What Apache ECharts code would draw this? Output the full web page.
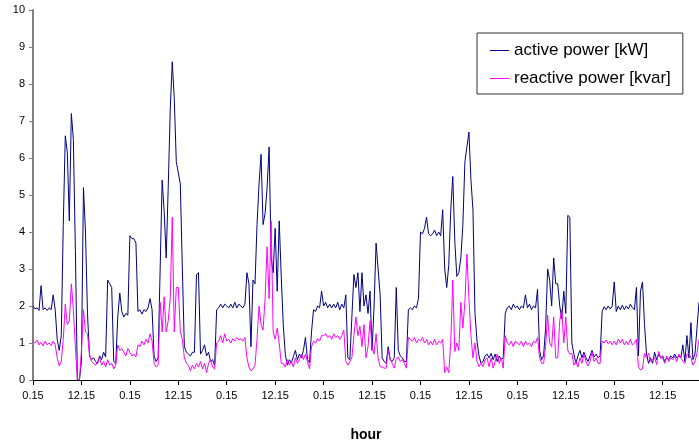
<!DOCTYPE html>
<html>
<head>
<meta charset="utf-8">
<script src="https://cdn.jsdelivr.net/npm/echarts@6/dist/echarts.min.js"></script>
<style>
  html, body { margin: 0; padding: 0; background: #fff; }
  #Chart { width: 699px; height: 441px; }
</style>
</head>
<body>
<div id="Chart"></div>
<script>
// readings every 30 min, starting at 0:15, one row per half day
var activePower = [].concat(
    [2.0,1.92,1.95,1.88,2.55,1.9,1.95,1.88,1.95,1.9,2.3,1.9,1.1,0.8,1.2,4.2,6.6,6.15,4.3,7.2,6.5,3.5,0,0],
    [0.5,5.2,4.0,1.8,0.65,0.55,0.6,0.5,0.45,0.65,0.55,0.75,0.62,2.7,2.6,2.5,0.5,0.45,1.7,2.35,1.85,1.7,1.8,1.75],
    [3.9,3.82,3.82,3.7,1.85,1.9,1.78,1.9,1.85,1.95,2.2,1.9,0.65,0.5,0.6,3.0,5.4,4.55,3.3,5.2,7.3,8.6,7.6,5.9],
    [5.6,5.3,3.0,0.9,0.75,0.7,0.65,0.75,0.75,2.85,2.9,0.7,0.8,0.95,0.65,0.75,0.5,0.55,0.4,1.9,1.95,2.05,1.95,2.05],
    [2.0,1.95,2.05,1.95,2.1,1.95,2.05,2.0,1.95,2.05,2.9,2.6,0.9,2.7,2.6,4.2,5.3,6.1,4.2,4.5,5.2,6.3,3.3,2.9],
    [4.1,2.4,4.3,2.8,1.5,0.7,0.4,0.55,0.47,0.63,0.8,0.55,0.7,0.6,0.8,1.15,0.55,0.47,1.3,1.9,1.85,2.0,1.95,2.4],
    [2.0,2.1,1.95,2.05,1.95,2.05,1.95,2.1,1.9,2.05,1.95,2.3,0.6,0.55,1.7,2.85,2.5,2.9,1.85,2.9,2.0,2.3,1.8,2.4],
    [0.8,2.0,3.7,3.0,2.3,0.6,0.5,0.45,0.9,0.55,0.5,0.6,2.5,0.8,0.65,0.6,0.5,0.5,1.9,1.95,1.9,2.0,1.95,2.2],
    [4.0,3.95,4.1,4.4,3.95,3.9,3.95,4.05,3.9,4.0,3.9,4.6,3.0,2.5,3.1,4.6,5.5,3.75,2.8,2.9,3.3,4.2,5.9,6.3],
    [6.7,5.4,4.6,1.8,1.05,0.65,0.45,0.5,0.65,0.7,0.6,0.72,0.55,0.7,0.5,0.65,0.55,0.6,1.8,1.95,2.0,1.9,2.05,1.95],
    [2.0,1.9,2.0,1.95,2.3,1.95,2.05,1.9,2.0,1.95,2.45,0.8,0.55,0.65,1.4,3.0,2.7,2.0,3.3,2.6,2.6,2.0,1.65,2.4],
    [1.8,4.45,4.4,1.0,0.7,0.45,0.65,0.8,0.6,0.75,0.6,0.5,0.65,0.8,0.62,0.7,0.6,0.65,1.85,1.98,1.9,2.0,1.92,2.0],
    [2.65,1.85,2.0,1.9,2.02,1.9,2.0,1.92,2.05,1.95,1.9,2.5,0.65,2.4,2.65,1.5,0.7,0.45,0.6,0.45,0.75,0.55,0.7,0.6],
    [0.65,0.5,0.6,0.55,0.65,0.6,0.7,0.6,0.65,0.6,0.95,0.5,1.2,0.6,1.55,0.55,0.7,1.4,2.1]
);

var reactivePower = [].concat(
    [1.05,1.0,1.08,0.95,1.02,0.92,1.05,0.95,1.0,0.93,1.05,0.95,0.6,0.38,0.5,1.1,2.05,1.5,1.6,2.6,1.9,0.9,0,0],
    [0.8,1.9,1.3,1.25,0.7,0.5,0.45,0.4,0.5,0.6,0.4,0.5,0.35,0.55,0.4,0.45,0.3,0.4,0.95,0.8,0.85,0.75,0.65,0.85],
    [0.75,0.65,0.7,0.62,0.95,0.9,1.05,0.95,1.1,1.0,1.25,1.05,0.45,0.35,0.4,2.1,1.3,2.25,1.3,1.6,2.2,4.4,1.3,2.5],
    [2.5,1.3,1.1,0.6,0.45,0.4,0.25,0.4,0.3,0.45,0.35,0.5,0.3,0.45,0.2,0.45,0.55,0.35,0.3,1.0,1.05,1.2,1.0,1.25],
    [1.05,1.1,1.0,1.12,1.05,1.15,1.08,1.12,1.05,1.15,0.6,0.35,0.25,0.3,0.4,1.1,2.0,1.5,1.35,2.2,3.6,2.2,4.3,1.3],
    [1.1,1.4,1.0,0.45,0.45,0.35,0.55,0.4,0.5,0.35,0.6,0.45,0.55,0.7,0.55,0.7,0.5,0.3,0.9,1.05,1.0,1.12,1.05,1.2],
    [1.2,1.25,1.15,1.2,1.1,1.25,1.15,1.2,1.1,1.2,1.35,0.5,0.4,0.5,0.6,1.2,1.7,1.2,1.45,0.9,1.5,0.6,0.9,1.6],
    [0.9,0.7,1.25,0.6,0.36,0.35,0.32,0.32,0.8,0.55,0.45,0.32,0.58,0.62,0.5,0.55,0.45,0.32,1.15,1.1,1.05,1.15,1.0,1.1],
    [1.05,1.15,1.0,1.1,0.95,1.05,0.95,1.1,0.95,1.05,1.0,1.1,0.2,0.35,0.2,1.0,2.7,0.77,1.0,0.8,2.1,1.4,2.1,3.4],
    [2.2,1.2,0.6,1.0,0.5,0.36,0.45,0.36,0.55,0.6,0.36,0.6,0.32,0.5,0.7,0.45,0.6,0.32,1.2,1.0,0.95,1.05,0.9,1.05],
    [1.0,0.95,1.05,0.9,1.05,0.95,1.0,0.9,1.05,1.0,1.15,0.6,0.45,0.45,0.9,1.75,1.0,0.9,1.7,0.6,0.6,1.6,1.9,1.0],
    [1.7,0.8,0.7,0.72,0.4,0.5,0.35,0.6,0.45,0.7,0.5,0.38,0.5,0.75,0.5,0.6,0.45,0.45,1.05,1.0,1.08,0.98,1.05,0.95],
    [1.05,0.95,1.1,1.0,1.1,0.95,1.05,0.95,1.1,0.95,1.0,1.1,0.36,0.27,0.3,0.72,0.6,0.72,0.5,0.55,0.6,0.42,0.77,0.6],
    [0.6,0.45,0.65,0.5,0.6,0.55,0.65,0.5,0.7,0.6,0.5,0.45,0.7,0.72,0.6,0.4,0.5,0.72,1.1]
);

var seriesNames = ['active power [kW]', 'reactive power [kvar]'];
var seriesColors = ['#000080', '#ff00ff'];
var stepsPerLabel = 24;   // one label every 12 hours (0.15, 12.15)

// time of day for every reading, h.mm
var times = activePower.map(function (v, i) {
    var min = 15 + i * 30;
    var h = Math.floor(min / 60) % 24;
    var m = min % 60;
    return h + '.' + (m < 10 ? '0' + m : m);
});

var font = 'Liberation Sans, Arial, sans-serif';
var Chart = echarts.init(document.getElementById('Chart'));

var ChartOption = {
    animation: false,
    backgroundColor: '#fff',
    grid: { left: 33, right: 0, top: 10, bottom: 61, containLabel: false, outerBoundsMode: 'none' },
    legend: {
        orient: 'vertical',
        left: 477,
        top: 33,
        padding: [9, 12, 7, 13],
        itemGap: 11,
        itemWidth: 19,
        itemHeight: 1,
        icon: 'rect',
        borderColor: '#333',
        borderWidth: 1,
        backgroundColor: '#fff',
        textStyle: { fontFamily: font, fontSize: 17, color: '#000' },
        data: seriesNames
    },
    xAxis: {
        type: 'category',
        data: times,
        boundaryGap: false,
        name: 'hour',
        nameLocation: 'middle',
        nameGap: 48,
        nameTextStyle: { fontFamily: font, fontSize: 14, fontWeight: 'bold', color: '#000' },
        axisLine: { lineStyle: { color: '#000', width: 1 } },
        axisTick: { interval: stepsPerLabel - 1, length: 5, lineStyle: { color: '#000' } },
        axisLabel: { interval: stepsPerLabel - 1, margin: 10, fontFamily: font, fontSize: 11, color: '#000' },
        splitLine: { show: false }
    },
    yAxis: {
        type: 'value',
        min: 0,
        max: 10,
        interval: 1,
        axisLine: { show: true, lineStyle: { color: '#808080', width: 2 } },
        axisTick: { show: true, length: 4, lineStyle: { color: '#808080' } },
        axisLabel: { margin: 8, fontFamily: font, fontSize: 11, color: '#000' },
        splitLine: { show: false }
    },
    series: [{
        name: seriesNames[0],
        type: 'line',
        data: activePower,
        showSymbol: false,
        color: seriesColors[0],
        lineStyle: { width: 1, color: seriesColors[0] }
    }, {
        name: seriesNames[1],
        type: 'line',
        data: reactivePower,
        showSymbol: false,
        color: seriesColors[1],
        lineStyle: { width: 1, color: seriesColors[1] }
    }]
};

Chart.setOption(ChartOption);
window.addEventListener("resize", function () {
    Chart.resize();
});
</script>
</body>
</html>
